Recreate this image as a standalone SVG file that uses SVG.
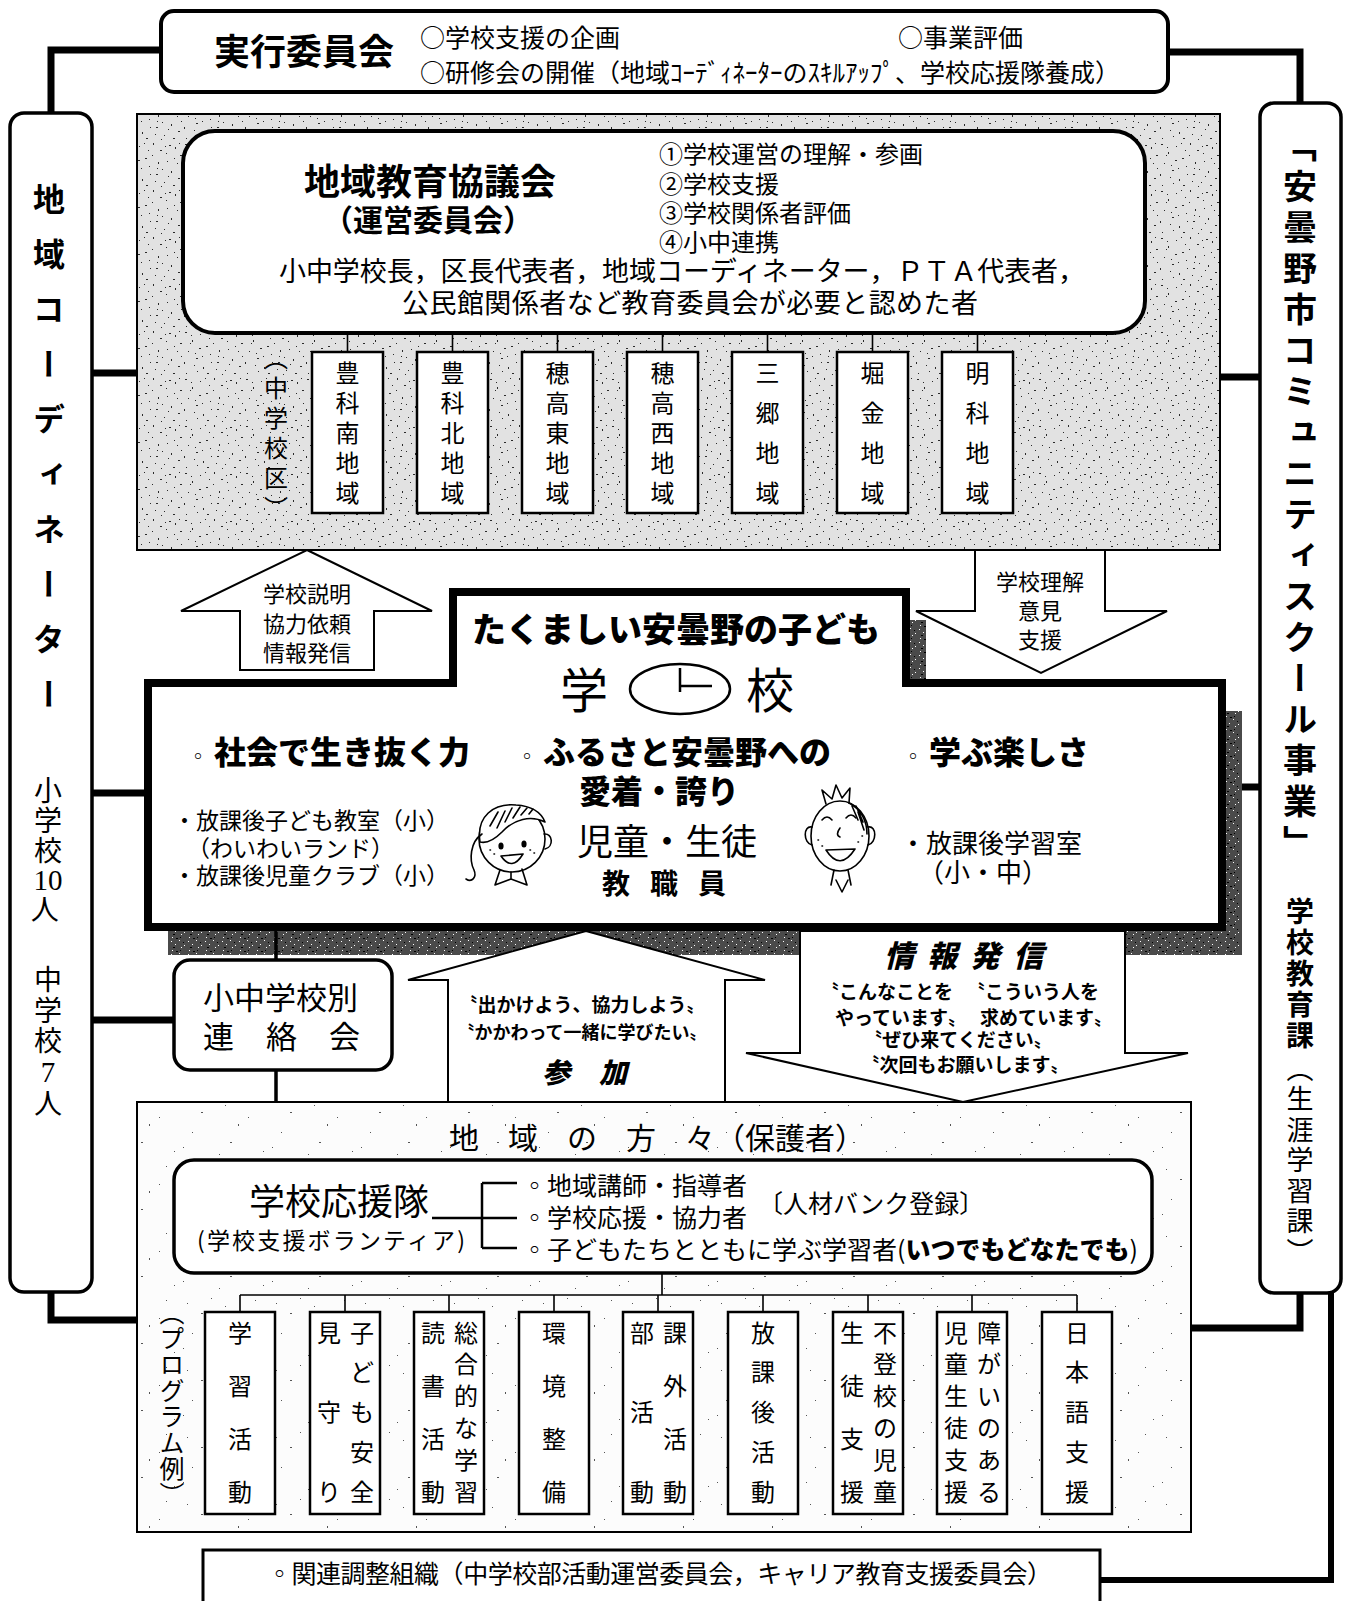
<svg xmlns="http://www.w3.org/2000/svg" width="1346" height="1601" viewBox="0 0 1346 1601">
<style>
text{font-family:"Noto Sans CJK JP","Noto Sans CJK SC","Noto Sans",sans-serif;fill:#000}
.b{font-weight:700}
.k{font-weight:900}
.v{writing-mode:vertical-rl}
.dg{font-family:"Liberation Serif",serif}
.cn{fill:none;stroke:#000;stroke-width:7}
.tk{fill:none;stroke:#000;stroke-width:1.6}
.bx{fill:#fff;stroke:#000;stroke-width:2.5}
.rb{fill:#fff;stroke:#000;stroke-width:3.5}
.ar{fill:#fff;stroke:#000;stroke-width:2}
.fc{fill:none;stroke:#000;stroke-width:1.6;stroke-linecap:round;stroke-linejoin:round}
.c24{font-size:24px;text-anchor:middle}
</style>
<defs>
<pattern id="dots1" width="61" height="47" patternUnits="userSpaceOnUse">
<rect width="61" height="47" fill="#e2e2e2"/>
<path fill="#2a2a2a" d="M2 3h2v1h-2zM9 11h1v2h-1zM17 5h1v1h-1zM23 17h2v1h-2zM31 2h1v2h-1zM38 9h2v1h-2zM45 20h1v1h-1zM53 6h1v2h-1zM58 14h2v1h-2zM5 22h1v1h-1zM13 29h2v1h-2zM20 38h1v2h-1zM27 25h1v1h-1zM34 33h2v1h-2zM42 41h1v1h-1zM49 30h1v2h-1zM56 37h2v1h-2zM3 44h1v1h-1zM11 36h1v1h-1zM16 19h2v1h-2zM26 9h1v1h-1zM36 21h1v2h-1zM44 12h1v1h-1zM51 44h2v1h-2zM59 27h1v1h-1zM7 14h1v1h-1zM24 44h2v1h-2zM30 14h1v1h-1zM40 28h1v1h-1zM47 4h2v1h-2zM55 22h1v1h-1zM1 33h1v2h-1zM14 42h1v1h-1zM33 40h1v1h-1zM46 35h1v1h-1zM19 27h1v1h-1zM28 33h1v1h-1zM52 17h1v1h-1zM8 6h1v1h-1zM39 45h1v1h-1zM57 2h1v1h-1zM22 2h1v1h-1zM35 27h1v1h-1zM12 24h1v1h-1zM43 5h1v1h-1z"/>
</pattern>
<pattern id="dots2" width="89" height="67" patternUnits="userSpaceOnUse">
<rect width="89" height="67" fill="#fcfcfc"/>
<path fill="#555" d="M5 8h1v1h-1zM23 40h2v1h-2zM41 15h1v1h-1zM60 52h1v2h-1zM77 27h1v1h-1zM14 60h1v1h-1zM33 25h1v1h-1zM52 3h2v1h-2zM70 45h1v1h-1zM85 12h1v1h-1zM47 33h1v1h-1zM9 30h1v1h-1z"/>
</pattern>
<pattern id="shade" width="17" height="13" patternUnits="userSpaceOnUse">
<rect width="17" height="13" fill="#4a4a4a"/>
<path fill="#fff" d="M2 1h1v1h-1zM9 4h1v1h-1zM14 9h1v1h-1zM5 8h1v1h-1zM11 11h1v1h-1zM1 5h1v1h-1z"/>
<path fill="#000" d="M6 2h2v1h-2zM13 6h1v1h-1zM3 11h2v1h-2zM10 1h1v1h-1z"/>
</pattern>
</defs>
<rect width="1346" height="1601" fill="#fff"/>

<!-- connectors -->
<g id="connectors">
<path class="cn" d="M161,50 H51 V113"/>
<path class="cn" d="M1168,52 H1300 V103"/>
<path class="cn" d="M92,373 H137"/>
<path class="cn" d="M1220,377 H1260"/>
<path class="cn" d="M92,793 H148"/>
<path class="cn" d="M1222,787 H1260"/>
<path class="cn" d="M92,1020 H174"/>
<path class="cn" d="M51,1292 V1320 H137"/>
<path class="cn" d="M1300,1293 V1328 H1191"/>
<path class="cn" d="M1331,1293 V1580 H1100" style="stroke-width:6"/>
</g>

<!-- executive committee -->
<g id="exec">
<rect x="161" y="11" width="1007" height="81" rx="13" fill="#fff" stroke="#000" stroke-width="4"/>
<text class="b" x="214" y="65" font-size="36">実行委員会</text>
<text x="420" y="47" font-size="25">○学校支援の企画</text>
<text x="898" y="47" font-size="25">○事業評価</text>
<text x="420" y="82" font-size="25" textLength="700" lengthAdjust="spacingAndGlyphs">○研修会の開催（地域ｺｰﾃﾞｨﾈｰﾀｰのｽｷﾙｱｯﾌﾟ、学校応援隊養成）</text>
</g>

<!-- coordinator column -->
<g id="coordinator">
<rect x="10" y="113" width="82" height="1179" rx="14" fill="#fff" stroke="#000" stroke-width="3.5"/>
<text class="b v" x="49" y="183" font-size="32" letter-spacing="23">地域コーディネーター</text>
<text font-size="28" text-anchor="middle">
<tspan x="48" y="801">小</tspan><tspan x="48" y="831">学</tspan><tspan x="48" y="861">校</tspan><tspan class="dg" x="48" y="890" font-size="29">10</tspan><tspan x="48" y="920">人</tspan>
<tspan x="48" y="990">中</tspan><tspan x="48" y="1021">学</tspan><tspan x="48" y="1051">校</tspan><tspan class="dg" x="48" y="1082" font-size="29">7</tspan><tspan x="48" y="1114">人</tspan>
</text>
</g>

<!-- community school column -->
<g id="community-school">
<rect x="1260" y="103" width="81" height="1190" rx="14" fill="#fff" stroke="#000" stroke-width="3.5"/>
<text class="b v" x="1300" y="128" font-size="34" letter-spacing="7">「安曇野市コミュニティスクール事業」</text>
<text class="b v" x="1300" y="897" font-size="28" letter-spacing="3">学校教育課</text>
<text class="v" x="1300" y="1055" font-size="27" letter-spacing="3.5">（生涯学習課）</text>
</g>

<!-- regional council area -->
<g id="council-area">
<rect x="137" y="114" width="1083" height="436" fill="url(#dots1)" stroke="#000" stroke-width="2"/>
<path class="tk" d="M347.5,333V352M452.5,333V352M557.5,333V352M662.5,333V352M767.5,333V352M872.5,333V352M977.5,333V352"/>
</g>
<g id="council">
<rect x="183" y="131" width="962" height="202" rx="32" fill="#fff" stroke="#000" stroke-width="4"/>
<text class="b" x="304" y="195" font-size="36">地域教育協議会</text>
<text class="b" x="428" y="231" font-size="30" text-anchor="middle">（運営委員会）</text>
<text x="659" y="163" font-size="24">①学校運営の理解・参画</text>
<text x="659" y="193" font-size="24">②学校支援</text>
<text x="659" y="222" font-size="24">③学校関係者評価</text>
<text x="659" y="251" font-size="24">④小中連携</text>
<text x="279" y="281" font-size="27" textLength="806">小中学校長，区長代表者，地域コーディネーター，ＰＴＡ代表者，</text>
<text x="402" y="313" font-size="27" textLength="576">公民館関係者など教育委員会が必要と認めた者</text>
</g>
<text id="district-label" class="v" x="276" y="346" font-size="24" letter-spacing="6">（中学校区）</text>
<g id="area-toyoshina-minami"><rect class="bx" x="312" y="352" width="71" height="161"/>
<text class="c24"><tspan x="347.5" y="381.5">豊</tspan><tspan x="347.5" y="411.5">科</tspan><tspan x="347.5" y="441.5">南</tspan><tspan x="347.5" y="471.5">地</tspan><tspan x="347.5" y="501.5">域</tspan></text></g>
<g id="area-toyoshina-kita"><rect class="bx" x="417" y="352" width="71" height="161"/>
<text class="c24"><tspan x="452.5" y="381.5">豊</tspan><tspan x="452.5" y="411.5">科</tspan><tspan x="452.5" y="441.5">北</tspan><tspan x="452.5" y="471.5">地</tspan><tspan x="452.5" y="501.5">域</tspan></text></g>
<g id="area-hotaka-higashi"><rect class="bx" x="522" y="352" width="71" height="161"/>
<text class="c24"><tspan x="557.5" y="381.5">穂</tspan><tspan x="557.5" y="411.5">高</tspan><tspan x="557.5" y="441.5">東</tspan><tspan x="557.5" y="471.5">地</tspan><tspan x="557.5" y="501.5">域</tspan></text></g>
<g id="area-hotaka-nishi"><rect class="bx" x="627" y="352" width="71" height="161"/>
<text class="c24"><tspan x="662.5" y="381.5">穂</tspan><tspan x="662.5" y="411.5">高</tspan><tspan x="662.5" y="441.5">西</tspan><tspan x="662.5" y="471.5">地</tspan><tspan x="662.5" y="501.5">域</tspan></text></g>
<g id="area-misato"><rect class="bx" x="732" y="352" width="71" height="161"/>
<text class="c24"><tspan x="767.5" y="381.5">三</tspan><tspan x="767.5" y="421.5">郷</tspan><tspan x="767.5" y="461.5">地</tspan><tspan x="767.5" y="501.5">域</tspan></text></g>
<g id="area-horigane"><rect class="bx" x="837" y="352" width="71" height="161"/>
<text class="c24"><tspan x="872.5" y="381.5">堀</tspan><tspan x="872.5" y="421.5">金</tspan><tspan x="872.5" y="461.5">地</tspan><tspan x="872.5" y="501.5">域</tspan></text></g>
<g id="area-akashina"><rect class="bx" x="942" y="352" width="71" height="161"/>
<text class="c24"><tspan x="977.5" y="381.5">明</tspan><tspan x="977.5" y="421.5">科</tspan><tspan x="977.5" y="461.5">地</tspan><tspan x="977.5" y="501.5">域</tspan></text></g>

<!-- school shadow -->
<path id="school-shadow" d="M473,620 H926 V711 H1242 V955 H168 V711 H473 Z" fill="url(#shade)"/>

<!-- arrows between school and community -->
<g id="arrow-explain">
<path class="ar" d="M307,550 L432,611 L374,611 L374,670 L240,670 L240,611 L181,611 Z"/>
<text font-size="22" text-anchor="middle"><tspan x="307" y="602">学校説明</tspan><tspan x="307" y="632">協力依頼</tspan><tspan x="307" y="661">情報発信</tspan></text>
</g>
<g id="arrow-support">
<path class="ar" d="M975,550 L1105,550 L1105,611 L1167,611 L1041,673 L916,611 L975,611 Z"/>
<text font-size="22" text-anchor="middle"><tspan x="1040" y="590">学校理解</tspan><tspan x="1040" y="619">意見</tspan><tspan x="1040" y="648">支援</tspan></text>
</g>
<g id="arrow-join">
<path class="ar" d="M586,931 L765,980 L725,980 L725,1102 L448,1102 L448,980 L408,980 Z"/>
<text class="b" x="582" y="1012" font-size="19" text-anchor="middle">〝出かけよう、協力しよう〟</text>
<text class="b" x="582" y="1039" font-size="18" text-anchor="middle">〝かかわって一緒に学びたい〟</text>
<text class="k" x="542" y="1083" font-size="28" font-style="italic" letter-spacing="29">参加</text>
</g>
<g id="arrow-inform">
<path class="ar" d="M800,931 L1125,931 L1125,1053 L1188,1053 L963,1102 L746,1053 L800,1053 Z"/>
<text class="k" x="884" y="967" font-size="30" font-style="italic" letter-spacing="13">情報発信</text>
<text class="b" font-size="19"><tspan x="820" y="999">〝こんなことを</tspan><tspan x="835" y="1025">やっています〟</tspan><tspan x="966" y="999">〝こういう人を</tspan><tspan x="980" y="1025">求めています〟</tspan></text>
<text class="b" font-size="19" text-anchor="middle"><tspan x="958" y="1047">〝ぜひ来てください〟</tspan><tspan x="965" y="1072">〝次回もお願いします〟</tspan></text>
</g>

<!-- school -->
<g id="school">
<path d="M453,592 H906 V683 H1222 V927 H148 V683 H453 Z" fill="#fff" stroke="#000" stroke-width="8" stroke-linejoin="miter"/>
<text class="k" x="676" y="642" font-size="34" text-anchor="middle">たくましい安曇野の子ども</text>
<text x="584" y="708" font-size="48" text-anchor="middle">学</text>
<ellipse cx="680" cy="689" rx="50" ry="25" fill="none" stroke="#000" stroke-width="2.5"/>
<path d="M680,668 V692 M680,686 H712" fill="none" stroke="#000" stroke-width="2.5"/>
<text x="770" y="708" font-size="48" text-anchor="middle">校</text>
<text class="k" x="188" y="764" font-size="32"><tspan font-size="20" font-weight="400">◦</tspan><tspan x="214">社会で生き抜く力</tspan></text>
<text class="k" x="517" y="764" font-size="32"><tspan font-size="20" font-weight="400">◦</tspan><tspan x="543">ふるさと安曇野への</tspan></text>
<text class="k" x="659" y="803" font-size="32" text-anchor="middle">愛着・誇り</text>
<text class="k" x="903" y="764" font-size="32"><tspan font-size="20" font-weight="400">◦</tspan><tspan x="929">学ぶ楽しさ</tspan></text>
<text x="173" y="829" font-size="23">・放課後子ども教室（小）</text>
<text x="187" y="857" font-size="23">（わいわいランド）</text>
<text x="173" y="884" font-size="23">・放課後児童クラブ（小）</text>
<text x="577" y="855" font-size="36">児童・生徒</text>
<text class="b" x="602" y="894" font-size="28" letter-spacing="20">教職員</text>
<text x="900" y="853" font-size="26">・放課後学習室</text>
<text x="918" y="882" font-size="26">（小・中）</text>
<g id="girl" class="fc">
<circle cx="512" cy="839" r="33" fill="#fff"/>
<path d="M480,842 C476,816 494,803 516,805 C531,806 541,812 545,822 C531,815 514,819 502,832 C495,839 488,844 480,842 Z" fill="#fff"/>
<path d="M490,826 L498,812 M497,828 L505,811 M505,822 L512,808 M513,818 L520,807 M521,815 L527,808 M529,814 L533,809"/>
<path d="M482,834 C470,842 469,860 474,870 C477,877 472,883 466,879"/>
<path d="M544,834 C553,833 554,847 545,849"/>
<ellipse cx="501" cy="846" rx="1.8" ry="2.8" fill="#000"/>
<ellipse cx="524" cy="844" rx="1.8" ry="2.8" fill="#000"/>
<path d="M501,856 Q512,872 523,854 Z" fill="#fff"/>
<path d="M490,850 h0.5 M494,854 h0.5 M530,850 h0.5 M534,853 h0.5"/>
<path d="M500,870 L495,885 L511,879 L527,885 L522,869 M511,879 V872"/>
</g>
<g id="boy" class="fc">
<ellipse cx="840" cy="836" rx="29" ry="35" fill="#fff"/>
<path d="M826,804 L822,790 L832,799 L836,785 L842,798 L850,788 L849,803"/>
<path d="M849,803 C861,809 867,821 867,834 M852,806 L858,820 M856,806 L863,822 M858,812 L864,830"/>
<path d="M812,827 C803,825 803,843 812,845"/>
<path d="M868,827 C877,825 877,843 868,845"/>
<path d="M822,820 q5,-6 10,0 M846,818 q5,-6 10,0"/>
<path d="M840,828 q-5,7 0,9"/>
<path d="M826,850 Q840,872 855,849 Z" fill="#fff"/>
<path d="M818,840 h0.5 M822,846 h0.5 M858,842 h0.5 M862,836 h0.5"/>
<path d="M834,870 L831,885 M848,870 L851,885 M836,880 L842,892 L848,880"/>
</g>
</g>

<!-- liaison meeting -->
<g id="liaison">
<path class="cn" d="M276,931 V960 M276,1070 V1102" style="stroke-width:3.5"/>
<rect class="rb" x="174" y="960" width="218" height="110" rx="16"/>
<text x="203" y="1009" font-size="31">小中学校別</text>
<text x="203" y="1048" font-size="31" letter-spacing="32">連絡会</text>
</g>

<!-- community members area -->
<g id="community-area">
<rect x="137" y="1102" width="1054" height="430" fill="url(#dots2)" stroke="#000" stroke-width="2"/>
<text x="449" y="1149" font-size="30"><tspan letter-spacing="29">地域の方</tspan>々（保護者）</text>
<text class="v" x="172" y="1300" font-size="25" letter-spacing="1">（プログラム例）</text>
<path class="tk" d="M662,1273 V1295 M240,1295 H1077 M240,1295V1312 M345,1295V1312 M449,1295V1312 M554,1295V1312 M658,1295V1312 M763,1295V1312 M868,1295V1312 M972,1295V1312 M1077,1295V1312"/>
</g>
<g id="support-team">
<rect class="rb" x="174" y="1160" width="978" height="113" rx="20"/>
<text x="249" y="1215" font-size="36">学校応援隊</text>
<text x="197" y="1249" font-size="23" textLength="268">(学校支援ボランティア)</text>
<path d="M432,1218 H517 M482,1183 V1248 M482,1183 H517 M482,1248 H517" fill="none" stroke="#000" stroke-width="2.5"/>
<text x="522" y="1195" font-size="25">◦地域講師・指導者</text>
<text x="522" y="1227" font-size="25">◦学校応援・協力者</text>
<text x="522" y="1259" font-size="25">◦子どもたちとともに学ぶ学習者(<tspan class="k">いつでもどなたでも</tspan>)</text>
<text x="758" y="1213" font-size="25">〔人材バンク登録〕</text>
</g>
<g id="prog-study"><rect class="bx" x="205" y="1312" width="70" height="202"/>
<text class="c24"><tspan x="240" y="1341.5">学</tspan><tspan x="240" y="1394.5">習</tspan><tspan x="240" y="1447.5">活</tspan><tspan x="240" y="1500.5">動</tspan></text></g>
<g id="prog-safety"><rect class="bx" x="310" y="1312" width="70" height="202"/>
<text class="c24"><tspan x="362" y="1341.5">子</tspan><tspan x="362" y="1381">ど</tspan><tspan x="362" y="1421">も</tspan><tspan x="362" y="1461">安</tspan><tspan x="362" y="1500.5">全</tspan><tspan x="329" y="1341.5">見</tspan><tspan x="329" y="1421">守</tspan><tspan x="329" y="1500.5">り</tspan></text></g>
<g id="prog-integrated"><rect class="bx" x="414" y="1312" width="70" height="202"/>
<text class="c24"><tspan x="466" y="1341.5">総</tspan><tspan x="466" y="1373">合</tspan><tspan x="466" y="1405">的</tspan><tspan x="466" y="1437">な</tspan><tspan x="466" y="1469">学</tspan><tspan x="466" y="1500.5">習</tspan><tspan x="433" y="1341.5">読</tspan><tspan x="433" y="1394.5">書</tspan><tspan x="433" y="1447.5">活</tspan><tspan x="433" y="1500.5">動</tspan></text></g>
<g id="prog-environment"><rect class="bx" x="519" y="1312" width="70" height="202"/>
<text class="c24"><tspan x="554" y="1341.5">環</tspan><tspan x="554" y="1394.5">境</tspan><tspan x="554" y="1447.5">整</tspan><tspan x="554" y="1500.5">備</tspan></text></g>
<g id="prog-clubs"><rect class="bx" x="623" y="1312" width="70" height="202"/>
<text class="c24"><tspan x="675" y="1341.5">課</tspan><tspan x="675" y="1394.5">外</tspan><tspan x="675" y="1447.5">活</tspan><tspan x="675" y="1500.5">動</tspan><tspan x="642" y="1341.5">部</tspan><tspan x="642" y="1421">活</tspan><tspan x="642" y="1500.5">動</tspan></text></g>
<g id="prog-afterschool"><rect class="bx" x="728" y="1312" width="70" height="202"/>
<text class="c24"><tspan x="763" y="1341.5">放</tspan><tspan x="763" y="1381">課</tspan><tspan x="763" y="1421">後</tspan><tspan x="763" y="1461">活</tspan><tspan x="763" y="1500.5">動</tspan></text></g>
<g id="prog-nonattendance"><rect class="bx" x="833" y="1312" width="70" height="202"/>
<text class="c24"><tspan x="885" y="1341.5">不</tspan><tspan x="885" y="1373">登</tspan><tspan x="885" y="1405">校</tspan><tspan x="885" y="1437">の</tspan><tspan x="885" y="1469">児</tspan><tspan x="885" y="1500.5">童</tspan><tspan x="852" y="1341.5">生</tspan><tspan x="852" y="1394.5">徒</tspan><tspan x="852" y="1447.5">支</tspan><tspan x="852" y="1500.5">援</tspan></text></g>
<g id="prog-disability"><rect class="bx" x="937" y="1312" width="70" height="202"/>
<text class="c24"><tspan x="989" y="1341.5">障</tspan><tspan x="989" y="1373">が</tspan><tspan x="989" y="1405">い</tspan><tspan x="989" y="1437">の</tspan><tspan x="989" y="1469">あ</tspan><tspan x="989" y="1500.5">る</tspan><tspan x="956" y="1341.5">児</tspan><tspan x="956" y="1373">童</tspan><tspan x="956" y="1405">生</tspan><tspan x="956" y="1437">徒</tspan><tspan x="956" y="1469">支</tspan><tspan x="956" y="1500.5">援</tspan></text></g>
<g id="prog-japanese"><rect class="bx" x="1042" y="1312" width="70" height="202"/>
<text class="c24"><tspan x="1077" y="1341.5">日</tspan><tspan x="1077" y="1381">本</tspan><tspan x="1077" y="1421">語</tspan><tspan x="1077" y="1461">支</tspan><tspan x="1077" y="1500.5">援</tspan></text></g>

<!-- related coordination bodies -->
<g id="related">
<rect x="203" y="1550" width="897" height="70" fill="#fff" stroke="#000" stroke-width="3"/>
<text x="267" y="1583" font-size="25" textLength="785">◦関連調整組織（中学校部活動運営委員会，キャリア教育支援委員会）</text>
</g>
</svg>
